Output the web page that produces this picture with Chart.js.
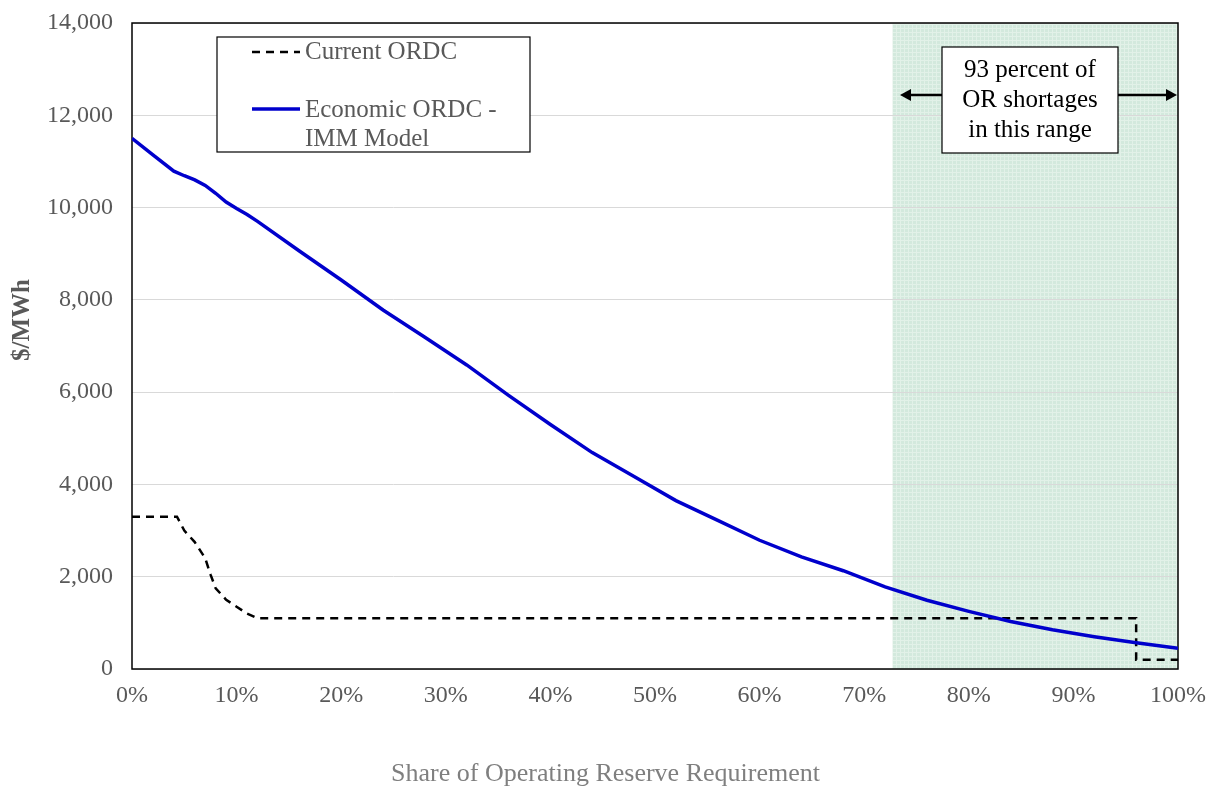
<!DOCTYPE html>
<html>
<head>
<meta charset="utf-8">
<script src="https://cdn.jsdelivr.net/npm/chart.js@4"></script>
<style>
  html, body { margin: 0; padding: 0; background: #fff; }
  #wrap { width: 1211px; height: 789px; }
</style>
</head>
<body>
<div id="wrap"><canvas id="ordcChart"></canvas></div>
<script>
// Economic ORDC - IMM Model (share of requirement %, $/MWh)
const economicShare = [0, 2, 4, 5, 6, 7, 8, 9, 10, 11, 12, 16, 20, 24, 28, 32, 36, 40, 44, 48, 52, 56, 60, 64, 68, 72, 76, 80, 84, 88, 92, 96, 100];
const economicPrice = [11500, 11140, 10790, 10690, 10600, 10480, 10310, 10120, 9980, 9850, 9700, 9060, 8430, 7780, 7190, 6590, 5930, 5300, 4690, 4170, 3650, 3220, 2790, 2430, 2130, 1780, 1490, 1250, 1030, 850, 700, 570, 450];

// Current ORDC
const currentShare = [0, 4.3, 5, 6, 7, 7.5, 8, 9, 10, 11, 12, 96, 96, 100];
const currentPrice = [3300, 3300, 3000, 2750, 2400, 2050, 1750, 1500, 1350, 1200, 1100, 1100, 200, 200];

// shaded range where 93% of shortages occur
const shadedRange = [72.7, 100];

const xTicks = [0, 10, 20, 30, 40, 50, 60, 70, 80, 90, 100];
const yTicks = [0, 2000, 4000, 6000, 8000, 10000, 12000, 14000];

const legendLabels = [['Current ORDC'], ['Economic ORDC -', 'IMM Model']];
const noteLines = ['93 percent of', 'OR shortages', 'in this range'];
const xTitle = 'Share of Operating Reserve Requirement';
const yTitle = '$/MWh';

const serif = '"Liberation Serif", "Times New Roman", serif';
const grayText = '#595959';

// pale green hatch for the shaded region
function makePattern(ctx) {
    const c = document.createElement('canvas');
    c.width = 4; c.height = 4;
    const p = c.getContext('2d');
    p.fillStyle = '#d3e9dd';
    p.fillRect(0, 0, 4, 4);
    p.fillStyle = '#e2f1e8';
    p.fillRect(0, 0, 4, 1);
    p.fillRect(0, 0, 1, 4);
    return ctx.createPattern(c, 'repeat');
}

const shadePlugin = {
    id: 'shade',
    beforeDraw(chart) {
        const { ctx, chartArea, scales } = chart;
        const x0 = scales.x.getPixelForValue(shadedRange[0]);
        const x1 = scales.x.getPixelForValue(shadedRange[1]);
        ctx.save();
        ctx.fillStyle = makePattern(ctx);
        ctx.fillRect(x0, chartArea.top, x1 - x0, chartArea.bottom - chartArea.top);
        ctx.restore();
    },
    beforeDatasetsDraw(chart) {
        const { ctx, chartArea } = chart;
        ctx.save();
        ctx.strokeStyle = '#000';
        ctx.lineWidth = 1.5;
        ctx.strokeRect(chartArea.left, chartArea.top, chartArea.right - chartArea.left, chartArea.bottom - chartArea.top);
        ctx.restore();
    }
};

function arrowHead(ctx, x, y, dir) {
    ctx.beginPath();
    ctx.moveTo(x, y);
    ctx.lineTo(x - dir * 11, y - 6);
    ctx.lineTo(x - dir * 11, y + 6);
    ctx.closePath();
    ctx.fill();
}

const overlayPlugin = {
    id: 'overlay',
    afterDraw(chart) {
        const { ctx, chartArea } = chart;
        const L = chartArea.left, T = chartArea.top;
        ctx.save();

        // legend box
        ctx.fillStyle = '#fff';
        ctx.fillRect(L + 85, T + 14, 313, 115);
        ctx.strokeStyle = '#000';
        ctx.lineWidth = 1.2;
        ctx.strokeRect(L + 85, T + 14, 313, 115);

        ctx.lineWidth = 2.5;
        ctx.setLineDash([8, 6]);
        ctx.beginPath();
        ctx.moveTo(L + 120, T + 29);
        ctx.lineTo(L + 168, T + 29);
        ctx.stroke();
        ctx.setLineDash([]);
        ctx.strokeStyle = '#0000cc';
        ctx.lineWidth = 3.5;
        ctx.beginPath();
        ctx.moveTo(L + 120, T + 86);
        ctx.lineTo(L + 168, T + 86);
        ctx.stroke();

        ctx.fillStyle = grayText;
        ctx.font = '25px ' + serif;
        ctx.textBaseline = 'middle';
        ctx.textAlign = 'left';
        ctx.fillText(legendLabels[0][0], L + 173, T + 29);
        ctx.fillText(legendLabels[1][0], L + 173, T + 87);
        ctx.fillText(legendLabels[1][1], L + 173, T + 116);

        // annotation with arrows
        const bx = 942, by = 47, bw = 176, bh = 106;
        ctx.fillStyle = '#000';
        ctx.strokeStyle = '#000';
        ctx.lineWidth = 2.5;
        ctx.beginPath();
        ctx.moveTo(905, 95);
        ctx.lineTo(bx, 95);
        ctx.moveTo(bx + bw, 95);
        ctx.lineTo(1170, 95);
        ctx.stroke();
        arrowHead(ctx, 900, 95, -1);
        arrowHead(ctx, 1177, 95, 1);

        ctx.fillStyle = '#fff';
        ctx.fillRect(bx, by, bw, bh);
        ctx.lineWidth = 1.2;
        ctx.strokeRect(bx, by, bw, bh);
        ctx.fillStyle = '#000';
        ctx.textAlign = 'center';
        noteLines.forEach((line, i) => {
            ctx.fillText(line, bx + bw / 2, by + 23 + i * 30);
        });

        // axis titles, placed as in the original (x centred on canvas)
        ctx.fillStyle = '#7f7f7f';
        ctx.font = '26px ' + serif;
        ctx.fillText(xTitle, chart.width / 2, 774);

        ctx.translate(23, 320);
        ctx.rotate(-Math.PI / 2);
        ctx.fillStyle = grayText;
        ctx.font = 'bold 25px ' + serif;
        ctx.fillText(yTitle, 0, 0);
        ctx.restore();
    }
};

const economicData = economicShare.map((x, i) => ({ x: x, y: economicPrice[i] }));
const currentData = currentShare.map((x, i) => ({ x: x, y: currentPrice[i] }));

new Chart(document.getElementById('ordcChart'), {
    type: 'line',
    data: {
        datasets: [{
            label: 'Economic ORDC - IMM Model',
            data: economicData,
            borderColor: '#0000cc',
            borderWidth: 3.5,
            pointRadius: 0,
            tension: 0,
            fill: false
        }, {
            label: 'Current ORDC',
            data: currentData,
            borderColor: '#000',
            borderWidth: 2.5,
            borderDash: [8, 6],
            pointRadius: 0,
            tension: 0,
            fill: false
        }]
    },
    options: {
        responsive: true,
        maintainAspectRatio: false,
        animation: false,
        layout: { padding: { top: 23, right: 33, left: 0, bottom: 0 } },
        plugins: {
            legend: { display: false },
            tooltip: { enabled: false },
            title: { display: false }
        },
        scales: {
            x: {
                type: 'linear',
                min: 0,
                max: 100,
                afterBuildTicks: (scale) => { scale.ticks = xTicks.map(v => ({ value: v })); },
                afterFit: (scale) => { scale.height = 120; },
                // invisible tick marks give the label gap without extra side padding
                grid: { drawOnChartArea: false, drawTicks: true, tickLength: 12, tickColor: 'rgba(0,0,0,0)' },
                border: { display: false },
                ticks: {
                    padding: 0,
                    color: grayText,
                    font: { family: serif, size: 24 },
                    callback: (v) => v + '%'
                }
            },
            y: {
                min: 0,
                max: 14000,
                afterBuildTicks: (scale) => { scale.ticks = yTicks.map(v => ({ value: v })); },
                afterFit: (scale) => { scale.width = 132; },
                grid: { color: '#d9d9d9', lineWidth: 1, drawTicks: true, tickLength: 19, tickColor: 'rgba(0,0,0,0)' },
                border: { display: false },
                title: { display: false },
                ticks: {
                    padding: 0,
                    color: grayText,
                    font: { family: serif, size: 24 },
                    callback: (v) => v.toLocaleString('en-US')
                }
            }
        }
    },
    plugins: [shadePlugin, overlayPlugin]
});
</script>
</body>
</html>
